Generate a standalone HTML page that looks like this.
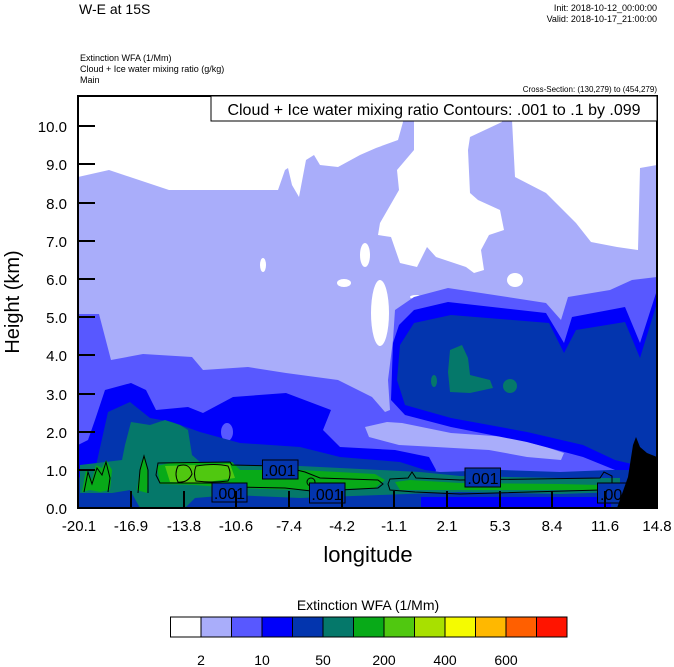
<!DOCTYPE html>
<html><head><meta charset="utf-8"><style>
body{margin:0;background:#fff;width:674px;height:667px;overflow:hidden}
svg{display:block}
text{font-family:"Liberation Sans",sans-serif;fill:#000}
</style></head><body>
<svg width="674" height="667" viewBox="0 0 674 667" xmlns="http://www.w3.org/2000/svg">
<defs><clipPath id="pc"><rect x="78" y="96" width="579" height="412"/></clipPath></defs>
<g clip-path="url(#pc)">
<rect x="78" y="96" width="579" height="412" fill="#a9adfa"/>
<polygon fill="#fff" points="78,96 403,96 403,122 398,140 376,148 360,155 338,167 320,165 314,155 306,160 299,197 292,185 288,168 285,170 278,190 169,190 109,170 78,177"/>
<polygon fill="#fff" points="414,96 500,96 502,122 470,137 468,150 470,193 478,200 500,210 504,230 489,235 481,250 484,270 474,273 466,267 436,257 427,247 417,267 400,263 391,237 378,235 380,223 399,190 397,170 414,150"/>
<polygon fill="#fff" points="512,96 657,96 657,165 640,168 638,250 617,247 591,242 576,223 546,193 515,177 512,120"/>
<ellipse cx="365" cy="255" rx="5" ry="12" fill="#fff"/>
<ellipse cx="380" cy="313" rx="9" ry="33" fill="#fff"/>
<ellipse cx="263" cy="265" rx="3" ry="7" fill="#fff"/>
<ellipse cx="344" cy="283" rx="7" ry="4" fill="#fff"/>
<ellipse cx="515" cy="280" rx="8" ry="7" fill="#fff"/>
<ellipse cx="416" cy="297" rx="6" ry="2" fill="#fff"/>
<polygon fill="#5858ff" points="78,314 99,314 111,360 143,354 192,357 203,370 248,367 286,373 338,380 372,397 385,412 390,410 388,380 393,340 395,310 414,297 448,288 481,293 546,303 561,320 568,297 610,290 632,280 657,277 657,508 78,508"/>
<polygon fill="#a9adfa" points="365,427 387,422 402,423 451,433 508,437 546,447 564,453 561,460 527,457 489,450 436,447 399,445 369,437"/>
<polygon fill="#0000fa" points="391,400 393,343 399,325 414,310 448,302 546,313 564,343 572,317 625,307 640,343 657,290 657,475 620,472 583,457 527,442 451,427 405,415"/>
<polygon fill="#0335ae" points="397,380 400,345 414,323 451,315 549,323 564,353 576,330 625,322 640,358 657,303 657,470 615,460 583,445 527,432 451,418 405,405"/>
<polygon fill="#05786a" points="448,372 450,350 462,345 468,358 470,375 490,380 493,388 470,393 450,392"/>
<ellipse cx="510" cy="386" rx="7" ry="7" fill="#05786a"/>
<ellipse cx="434" cy="381" rx="3" ry="6" fill="#05786a"/>
<polygon fill="#0000fa" points="78,445 88,440 95,420 105,390 131,383 146,390 156,410 188,407 203,413 233,397 286,393 331,410 323,430 340,447 395,450 429,457 436,470 432,485 78,485"/>
<ellipse cx="227" cy="432" rx="6" ry="9" fill="#5858ff"/>
<polygon fill="#0335ae" points="78,478 95,470 108,412 130,402 150,418 172,422 200,432 240,443 300,447 340,457 400,462 425,470 440,472 500,470 560,472 610,470 657,470 657,508 78,508"/>
<rect x="421" y="497" width="190" height="11" fill="#0000fa"/>
<polygon fill="#05786a" points="125,445 131,422 150,425 165,420 180,425 188,430 192,455 200,462 232,465 300,466 380,470 420,472 460,476 560,478 620,478 620,492 560,494 460,492 380,495 300,498 232,495 195,498 185,508 140,508 130,490 112,493 80,493 80,465 122,460"/>
<polygon fill="#08aa18" points="157,466 175,462 232,462 240,470 300,470 375,474 385,480 375,488 300,490 232,488 195,485 160,484"/>
<polygon fill="#08aa18" points="395,482 410,480 460,483 560,484 600,485 600,490 460,490 400,490"/>
<polygon fill="#50c810" points="165,466 230,464 235,478 200,483 170,482"/>
<polygon fill="#08aa18" points="137,490 141,462 145,456 148,475 147,493"/>
<polygon fill="#08aa18" points="82,492 86,470 92,480 96,465 102,468 106,460 112,470 110,490 100,492 90,490"/>
<g fill="none" stroke="#000" stroke-width="1">
<path d="M158,463 L230,462 L232,465 L280,466 L305,472 L320,478 L378,480 L383,484 L378,488 L340,490 L320,492 L285,488 L232,487 L225,483 L160,483 L156,475 Z"/>
<path d="M178,466 Q190,462 192,474 Q188,483 178,482 Q174,474 178,466 Z"/>
<path d="M196,466 Q215,463 228,466 Q232,474 228,481 Q212,483 196,481 Q193,474 196,466 Z"/>
<path d="M390,479 L408,478 L412,472 L416,478 L460,480 L600,478 L604,472 L612,476 L612,490 L600,490 L460,494 L415,492 L390,490 L388,484 Z"/>
<path d="M138,493 L140,470 L144,456 L148,470 L148,493"/>
<path d="M84,492 L88,472 L92,484 L97,468 L102,475 L106,462 L110,478 L108,492"/>
<circle cx="311" cy="482" r="4"/>
</g>
<g fill="#0335ae" stroke="#000" stroke-width="1">
<rect x="262.5" y="460" width="35.5" height="19"/>
<rect x="212" y="483" width="35" height="19"/>
<rect x="309.5" y="483" width="35.5" height="20"/>
<rect x="465" y="468" width="35.5" height="19"/>
<rect x="597.5" y="483" width="31" height="20"/>
</g>
<g font-size="16">
<text x="280" y="476" text-anchor="middle">.001</text>
<text x="229.5" y="499" text-anchor="middle">.001</text>
<text x="327" y="500" text-anchor="middle">.001</text>
<text x="483" y="484" text-anchor="middle">.001</text>
<text x="600" y="500">.00</text>
</g>
<polygon fill="#000" points="617,508 628,477 633,445 636,437 640,447 647,453 657,457 657,508"/>
</g>
<rect x="78" y="96" width="579" height="412" fill="none" stroke="#000" stroke-width="2"/>
<g stroke="#000" stroke-width="2">
<line x1="78" y1="470" x2="95" y2="470"/><line x1="78" y1="432" x2="95" y2="432"/>
<line x1="78" y1="394" x2="95" y2="394"/><line x1="78" y1="355" x2="95" y2="355"/>
<line x1="78" y1="317" x2="95" y2="317"/><line x1="78" y1="279" x2="95" y2="279"/>
<line x1="78" y1="241" x2="95" y2="241"/><line x1="78" y1="203" x2="95" y2="203"/>
<line x1="78" y1="164" x2="95" y2="164"/><line x1="78" y1="126" x2="95" y2="126"/>
<line x1="131" y1="508" x2="131" y2="491"/><line x1="184" y1="508" x2="184" y2="491"/>
<line x1="236" y1="508" x2="236" y2="491"/><line x1="289" y1="508" x2="289" y2="491"/>
<line x1="342" y1="508" x2="342" y2="491"/><line x1="394" y1="508" x2="394" y2="491"/>
<line x1="447" y1="508" x2="447" y2="491"/><line x1="500" y1="508" x2="500" y2="491"/>
<line x1="552" y1="508" x2="552" y2="491"/><line x1="605" y1="508" x2="605" y2="491"/>
</g>
<rect x="211" y="96" width="446" height="25" fill="#fff" stroke="#000" stroke-width="1"/>
<text x="434" y="115" font-size="16" text-anchor="middle">Cloud + Ice water mixing ratio Contours: .001 to .1 by .099</text>
<g font-size="15" text-anchor="end">
<text x="67" y="514">0.0</text><text x="67" y="476">1.0</text><text x="67" y="438">2.0</text>
<text x="67" y="400">3.0</text><text x="67" y="361">4.0</text><text x="67" y="323">5.0</text>
<text x="67" y="285">6.0</text><text x="67" y="247">7.0</text><text x="67" y="209">8.0</text>
<text x="67" y="170">9.0</text><text x="67" y="132">10.0</text>
</g>
<g font-size="15" text-anchor="middle">
<text x="79" y="531">-20.1</text><text x="131" y="531">-16.9</text><text x="184" y="531">-13.8</text>
<text x="236" y="531">-10.6</text><text x="289" y="531">-7.4</text><text x="342" y="531">-4.2</text>
<text x="394" y="531">-1.1</text><text x="447" y="531">2.1</text><text x="500" y="531">5.3</text>
<text x="552" y="531">8.4</text><text x="605" y="531">11.6</text><text x="657" y="531">14.8</text>
</g>
<text x="368" y="562" font-size="22" text-anchor="middle">longitude</text>
<text transform="translate(19,302) rotate(-90)" font-size="20" text-anchor="middle">Height (km)</text>
<text x="79" y="14" font-size="14">W-E at 15S</text>
<text x="657" y="11" font-size="9" text-anchor="end">Init: 2018-10-12_00:00:00</text>
<text x="657" y="22" font-size="9" text-anchor="end">Valid: 2018-10-17_21:00:00</text>
<text x="80" y="61" font-size="9">Extinction WFA   (1/Mm)</text>
<text x="80" y="72" font-size="9">Cloud + Ice water mixing ratio   (g/kg)</text>
<text x="80" y="83" font-size="9">Main</text>
<text x="657" y="92" font-size="8" text-anchor="end">Cross-Section: (130,279) to (454,279)</text>
<text x="368" y="610" font-size="14" text-anchor="middle">Extinction WFA  (1/Mm)</text>
<g stroke="#000" stroke-width="1">
<rect x="170.5" y="617" width="30.5" height="20" fill="#fff"/>
<rect x="201" y="617" width="30.5" height="20" fill="#a9adfa"/>
<rect x="231.5" y="617" width="30.5" height="20" fill="#5858ff"/>
<rect x="262" y="617" width="30.5" height="20" fill="#0000fa"/>
<rect x="292.5" y="617" width="30.5" height="20" fill="#0335ae"/>
<rect x="323" y="617" width="30.5" height="20" fill="#05786a"/>
<rect x="353.5" y="617" width="30.5" height="20" fill="#08aa18"/>
<rect x="384" y="617" width="30.5" height="20" fill="#50c810"/>
<rect x="414.5" y="617" width="30.5" height="20" fill="#a8e000"/>
<rect x="445" y="617" width="30.5" height="20" fill="#f5fb00"/>
<rect x="475.5" y="617" width="30.5" height="20" fill="#ffb800"/>
<rect x="506" y="617" width="30.5" height="20" fill="#ff5f00"/>
<rect x="536.5" y="617" width="30.5" height="20" fill="#ff1400"/>
</g>
<g font-size="14" text-anchor="middle">
<text x="201" y="665">2</text><text x="262" y="665">10</text><text x="323" y="665">50</text>
<text x="384" y="665">200</text><text x="445" y="665">400</text><text x="506" y="665">600</text>
</g>
</svg>
</body></html>
